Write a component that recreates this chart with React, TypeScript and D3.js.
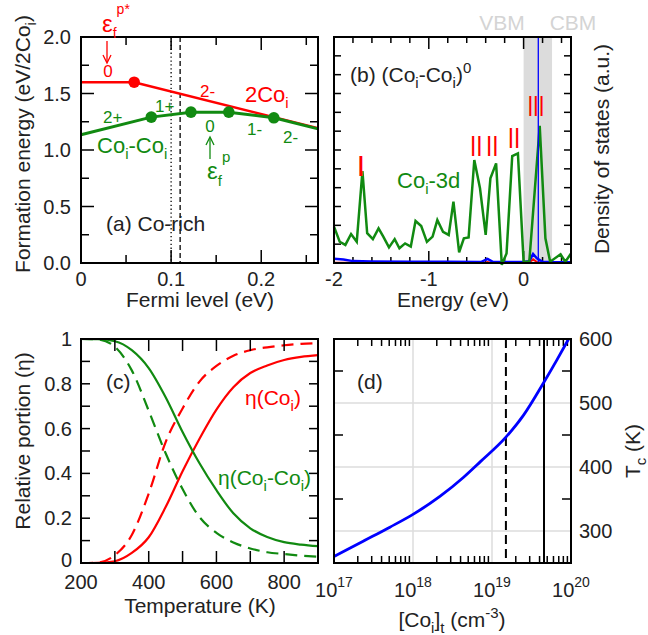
import React from 'react';
import * as d3 from 'd3';

const FONT = '"Liberation Sans", Arial, Helvetica, sans-serif';
const RED = '#ff0000';
const GREEN = '#118a11';
const BLUE = '#0000ff';
const INK = '#222222';

// (a) formation energy vs Fermi level (Co-rich)
const fermiMax = 0.263;
const twoCoiLevel = [0, 0.059, 0.263];
const twoCoiEnergy = [1.6, 1.6, 1.192];
const dimerLevel = [0, 0.078, 0.122, 0.164, 0.214, 0.263];
const dimerEnergy = [1.135, 1.291, 1.335, 1.335, 1.285, 1.187];
const fermiDotted = 0.1;
const fermiDashed = 0.11;

// (b) density of states of (Coi-Coi)0
const dosEnergy = [
  -2.0, -1.94, -1.88, -1.82, -1.76, -1.7, -1.65, -1.59, -1.53, -1.48, -1.42, -1.36, -1.31, -1.25,
  -1.19, -1.14, -1.08, -1.02, -0.96, -0.91, -0.85, -0.79, -0.74, -0.68, -0.63, -0.58, -0.52, -0.46,
  -0.4, -0.35, -0.29, -0.23, -0.18, -0.12, -0.06, 0.0, 0.06, 0.17, 0.23, 0.28, 0.39, 0.44, 0.5,
];
const dosCo3d = [
  1.93, 1.13, 0.96, 1.54, 1.13, 4.88, 1.58, 1.27, 1.84, 1.4, 0.83, 1.27, 0.78, 1.04,
  0.87, 2.23, 1.96, 1.12, 1.4, 2.28, 1.66, 1.49, 3.26, 0.57, 1.31, 1.36, 5.47, 3.97,
  1.49, 4.5, 5.29, -0.1, 0.51, 5.68, 5.82, 0.07, 0.07, 7.28, 1.31, 0.07, 0.46, 0.07, 0.5,
];
const blueEnergy = [-2.0, -1.9, -1.8, -1.6, -1.2, -0.8, -0.45, -0.38, -0.32, -0.1, 0.0, 0.06, 0.1, 0.14, 0.2, 0.3, 0.5];
const blueDos = [0.22, 0.18, 0.1, 0.08, 0.06, 0.06, 0.05, 0.22, 0.05, 0.05, 0.05, 0.1, 0.48, 0.25, 0.06, 0.04, 0.04];
const redEnergy = [-2.0, -0.4, -0.38, -0.35, 0.0, 0.06, 0.1, 0.14, 0.2, 0.5];
const redDos = [0.01, 0.01, 0.05, 0.01, 0.01, 0.02, 0.2, 0.05, 0.01, 0.01];
const gapBand = [0, 0.3];
const fermiLine = 0.155;
const peakLabels = ['I', 'II', 'II', 'II', 'III'];
const peakEnergy = [-1.715, -0.5, -0.33, -0.1, 0.13];
const peakTop = [4.64, 5.66, 5.66, 6.13, 7.8];

// (c) relative portion vs temperature
const temps = [200, 250, 300, 350, 400, 450, 500, 550, 600, 650, 700, 750, 800, 850, 900];
const etaCoi = [0, 0.001, 0.008, 0.045, 0.115, 0.25, 0.41, 0.555, 0.685, 0.785, 0.848, 0.882, 0.906, 0.92, 0.928];
const etaDimer = [1, 0.999, 0.99, 0.95, 0.87, 0.74, 0.585, 0.445, 0.325, 0.222, 0.155, 0.116, 0.093, 0.082, 0.075];
const etaCoiDash = [0, 0.002, 0.035, 0.125, 0.31, 0.54, 0.69, 0.81, 0.88, 0.925, 0.95, 0.963, 0.972, 0.978, 0.982];
const etaDimerDash = [1, 0.998, 0.965, 0.86, 0.68, 0.49, 0.33, 0.205, 0.135, 0.092, 0.065, 0.048, 0.04, 0.033, 0.028];

// (d) Curie temperature vs total Coi concentration
const coConc = [1e17, 2.34e17, 5.1e17, 1e18, 2.19e18, 4.37e18, 7.08e18, 1.51e19, 2.51e19, 4.52e19, 6.61e19, 9.33e19];
const curieT = [260, 284, 306, 326, 354, 384, 408, 447, 481, 532, 567, 600];
const concDashed = 1.5e19;
const concSolid = 4.55e19;

type Box = { x0: number; x1: number; y0: number; y1: number };
const boxA: Box = { x0: 81, x1: 318, y0: 37, y1: 263 };
const boxB: Box = { x0: 334, x1: 571, y0: 37, y1: 263 };
const boxC: Box = { x0: 81, x1: 318, y0: 339, y1: 563 };
const boxD: Box = { x0: 334, x1: 571, y0: 339, y1: 563 };

const xA = d3.scaleLinear().domain([0, fermiMax]).range([boxA.x0, boxA.x1]);
const yA = d3.scaleLinear().domain([0, 2]).range([boxA.y1, boxA.y0]);
const xB = d3.scaleLinear().domain([-2, 0.5]).range([boxB.x0, boxB.x1]);
const yB = d3.scaleLinear().domain([0, 12]).range([boxB.y1, boxB.y0]);
const xC = d3.scaleLinear().domain([200, 900]).range([boxC.x0, boxC.x1]);
const yC = d3.scaleLinear().domain([0, 1]).range([boxC.y1, boxC.y0]);
const xD = d3.scaleLog().domain([1e17, 1e20]).range([boxD.x0, boxD.x1]);
const yD = d3.scaleLinear().domain([250, 600]).range([boxD.y1, boxD.y0]);

const near = (v: number, step: number) => Math.abs(v / step - Math.round(v / step)) < 1e-6;

function xTicks(box: Box, scale: (v: number) => number, vals: number[], len: (v: number) => number, key: string) {
  return vals.flatMap((v, i) => {
    const x = scale(v);
    return [
      <line key={`${key}b${i}`} x1={x} x2={x} y1={box.y1} y2={box.y1 - len(v)} stroke="#000" strokeWidth={1.5} />,
      <line key={`${key}t${i}`} x1={x} x2={x} y1={box.y0} y2={box.y0 + len(v)} stroke="#000" strokeWidth={1.5} />,
    ];
  });
}

function yTicks(box: Box, scale: (v: number) => number, vals: number[], len: (v: number) => number, key: string) {
  return vals.flatMap((v, i) => {
    const y = scale(v);
    return [
      <line key={`${key}l${i}`} x1={box.x0} x2={box.x0 + len(v)} y1={y} y2={y} stroke="#000" strokeWidth={1.5} />,
      <line key={`${key}r${i}`} x1={box.x1} x2={box.x1 - len(v)} y1={y} y2={y} stroke="#000" strokeWidth={1.5} />,
    ];
  });
}

function Frame({ box }: { box: Box }) {
  return <rect x={box.x0} y={box.y0} width={box.x1 - box.x0} height={box.y1 - box.y0} fill="none" stroke="#000" strokeWidth={2} />;
}

type Part = [string, number?, number?];
function Rich({ x, y, parts, size, fill = INK, anchor = 'start', transform }: {
  x: number; y: number; parts: Part[]; size: number; fill?: string; anchor?: string; transform?: string;
}) {
  let cur = 0;
  return (
    <text x={x} y={y} fontSize={size} fill={fill} textAnchor={anchor} transform={transform} fontFamily={FONT}>
      {parts.map((p, i) => {
        const [str, shift = 0, fs] = p;
        const dy = shift - cur;
        cur = shift;
        return (
          <tspan key={i} dy={dy !== 0 ? dy : undefined} fontSize={fs}>
            {str}
          </tspan>
        );
      })}
    </text>
  );
}

export default function App() {
  const lineA = d3.line<[number, number]>().x((d) => xA(d[0])).y((d) => yA(d[1]));
  const twoCoi = d3.zip(twoCoiLevel, twoCoiEnergy) as [number, number][];
  const dimer = d3.zip(dimerLevel, dimerEnergy) as [number, number][];

  const lineB = d3.line<[number, number]>().x((d) => xB(d[0])).y((d) => yB(d[1]));
  const lineC = d3.line<[number, number]>().x((d) => xC(d[0])).y((d) => yC(d[1])).curve(d3.curveMonotoneX);
  const lineD = d3.line<[number, number]>().x((d) => xD(d[0])).y((d) => yD(d[1])).curve(d3.curveMonotoneX);

  const minorD: number[] = [];
  for (const e of [17, 18, 19]) for (let k = 2; k <= 9; k++) minorD.push(k * Math.pow(10, e));

  return (
    <svg width={648} height={635} style={{ position: 'absolute', left: 0, top: 0, background: '#fff' }} fontFamily={FONT}>
      <rect width={648} height={635} fill="#fff" />

      {/* ---------- (a) ---------- */}
      <line x1={xA(fermiDotted)} x2={xA(fermiDotted)} y1={boxA.y0} y2={boxA.y1} stroke="#000" strokeWidth={1.3} strokeDasharray="1.3,2.6" />
      <line x1={xA(fermiDashed)} x2={xA(fermiDashed)} y1={boxA.y0} y2={boxA.y1} stroke="#000" strokeWidth={1.3} strokeDasharray="5,3" />
      <path d={lineA(twoCoi) ?? ''} fill="none" stroke={RED} strokeWidth={2.5} />
      <path d={lineA(dimer) ?? ''} fill="none" stroke={GREEN} strokeWidth={3} />
      {twoCoi.slice(1, -1).map((d, i) => (
        <circle key={`rd${i}`} cx={xA(d[0])} cy={yA(d[1])} r={5.8} fill={RED} />
      ))}
      {dimer.slice(1, -1).map((d, i) => (
        <circle key={`gd${i}`} cx={xA(d[0])} cy={yA(d[1])} r={5.8} fill={GREEN} />
      ))}
      {xTicks(boxA, xA, d3.range(0.05, 0.26, 0.05), (v) => (near(v, 0.1) ? 13 : 8), 'ax')}
      {yTicks(boxA, yA, d3.range(0.25, 2, 0.25), (v) => (near(v, 0.5) ? 13 : 8), 'ay')}
      <Frame box={boxA} />
      {[0, 0.1, 0.2].map((v) => (
        <text key={`axl${v}`} x={xA(v)} y={286} fontSize={20} textAnchor="middle" fill={INK}>{v === 0 ? '0' : v.toFixed(1)}</text>
      ))}
      {[0, 0.5, 1, 1.5, 2].map((v) => (
        <text key={`ayl${v}`} x={71} y={yA(v) + 7} fontSize={20} textAnchor="end" fill={INK}>{v.toFixed(1)}</text>
      ))}
      <text x={200} y={307} fontSize={21} textAnchor="middle" fill={INK}>Fermi level (eV)</text>
      <Rich x={0} y={0} transform="translate(30,144) rotate(-90)" anchor="middle" size={21}
        parts={[['Formation energy (eV/2Co'], ['i', 6, 15], [')']]} />
      <text x={106} y={231} fontSize={21} fill={INK}>(a) Co-rich</text>

      {/* labels (a) */}
      <Rich x={102} y={32} size={24} fill={RED} parts={[['ε'], ['f', 6, 14], ['p*', -18, 14]]} />
      <line x1={107} x2={107} y1={41} y2={62} stroke={RED} strokeWidth={1.3} />
      <path d="M103,55 L107,63 L111,55" fill="none" stroke={RED} strokeWidth={1.3} />
      <text x={108} y={77} fontSize={17} textAnchor="middle" fill={RED}>0</text>
      <text x={200} y={97} fontSize={17} fill={RED}>2-</text>
      <Rich x={245} y={102} size={22} fill={RED} parts={[['2Co'], ['i', 6, 15]]} />

      <text x={103} y={123} fontSize={17} fill={GREEN}>2+</text>
      <text x={155} y={112} fontSize={17} fill={GREEN}>1+</text>
      <text x={210} y={132} fontSize={17} textAnchor="middle" fill={GREEN}>0</text>
      <text x={247} y={135} fontSize={17} fill={GREEN}>1-</text>
      <text x={283} y={143} fontSize={17} fill={GREEN}>2-</text>
      <line x1={210} x2={210} y1={138} y2={159} stroke={GREEN} strokeWidth={1.3} />
      <path d="M206,145 L210,137 L214,145" fill="none" stroke={GREEN} strokeWidth={1.3} />
      <Rich x={207} y={179} size={24} fill={GREEN} parts={[['ε'], ['f', 7, 15], ['p', -17, 15]]} />
      <Rich x={97} y={153} size={22} fill={GREEN} parts={[['Co'], ['i', 6, 15], ['-Co', 0], ['i', 6, 15]]} />

      {/* ---------- (b) ---------- */}
      <rect x={xB(gapBand[0])} y={boxB.y0} width={xB(gapBand[1]) - xB(gapBand[0])} height={boxB.y1 - boxB.y0} fill="#dcdcdc" />
      {xTicks(boxB, xB, d3.range(-1.8, 0.45, 0.2), (v) => (near(v, 1) ? 12 : 6), 'bx')}
      {yTicks(boxB, yB, d3.range(1, 12, 1), () => 7, 'by')}
      <path d={lineB(d3.zip(redEnergy, redDos) as [number, number][]) ?? ''} fill="none" stroke={RED} strokeWidth={2} />
      <path d={lineB(d3.zip(blueEnergy, blueDos) as [number, number][]) ?? ''} fill="none" stroke={BLUE} strokeWidth={2.5} />
      <path d={lineB(d3.zip(dosEnergy, dosCo3d) as [number, number][]) ?? ''} fill="none" stroke={GREEN} strokeWidth={2.5} />
      <line x1={xB(fermiLine)} x2={xB(fermiLine)} y1={boxB.y0} y2={boxB.y1} stroke={BLUE} strokeWidth={1.3} />
      <Frame box={boxB} />
      {[-2, -1, 0].map((v) => (
        <text key={`bxl${v}`} x={xB(v)} y={286} fontSize={20} textAnchor="middle" fill={INK}>{String(v)}</text>
      ))}
      <text x={453} y={307} fontSize={21} textAnchor="middle" fill={INK}>Energy (eV)</text>
      <text x={0} y={0} transform="translate(609,149) rotate(-90)" fontSize={21} textAnchor="middle" fill={INK}>Density of states (a.u.)</text>
      <text x={502} y={30} fontSize={21} textAnchor="middle" fill="#d4d4d4">VBM</text>
      <text x={573} y={30} fontSize={21} textAnchor="middle" fill="#d4d4d4">CBM</text>
      <Rich x={350} y={82} size={21} parts={[['(b) (Co'], ['i', 6, 15], ['-Co', 0], ['i', 6, 15], [')', 0], ['0', -9, 15]]} />
      <Rich x={397} y={188} size={22} fill={GREEN} parts={[['Co'], ['i', 6, 15], ['-3d', 0]]} />
      {peakLabels.map((s, i) => (
        <text key={`pk${i}`} x={xB(peakEnergy[i])} y={yB(peakTop[i])} fontSize={30} textAnchor="middle" fill={RED}
          textLength={s.length === 1 ? undefined : s.length === 2 ? 12.5 : 17} lengthAdjust="spacingAndGlyphs">{s}</text>
      ))}

      {/* ---------- (c) ---------- */}
      <path d={lineC(d3.zip(temps, etaCoiDash) as [number, number][]) ?? ''} fill="none" stroke={RED} strokeWidth={2.2} strokeDasharray="12,7" />
      <path d={lineC(d3.zip(temps, etaDimerDash) as [number, number][]) ?? ''} fill="none" stroke={GREEN} strokeWidth={2.2} strokeDasharray="12,7" />
      <path d={lineC(d3.zip(temps, etaCoi) as [number, number][]) ?? ''} fill="none" stroke={RED} strokeWidth={2.2} />
      <path d={lineC(d3.zip(temps, etaDimer) as [number, number][]) ?? ''} fill="none" stroke={GREEN} strokeWidth={2.2} />
      {xTicks(boxC, xC, d3.range(300, 900, 100), () => 12, 'cx')}
      {yTicks(boxC, yC, d3.range(0.1, 1, 0.1), () => 9, 'cy')}
      <Frame box={boxC} />
      {[200, 400, 600, 800].map((v) => (
        <text key={`cxl${v}`} x={xC(v)} y={589} fontSize={20} textAnchor="middle" fill={INK}>{v}</text>
      ))}
      {[0, 0.2, 0.4, 0.6, 0.8, 1].map((v) => (
        <text key={`cyl${v}`} x={72} y={yC(v) + (v === 0 ? 4 : 7)} fontSize={20} textAnchor="end" fill={INK}>{v === 0 || v === 1 ? String(v) : v.toFixed(1)}</text>
      ))}
      <text x={200} y={613} fontSize={21} textAnchor="middle" fill={INK}>Temperature (K)</text>
      <text x={0} y={0} transform="translate(30,441) rotate(-90)" fontSize={21} textAnchor="middle" fill={INK}>Relative portion (η)</text>
      <text x={106} y={389} fontSize={21} fill={INK}>(c)</text>
      <Rich x={245} y={405} size={21} fill={RED} parts={[['η(Co'], ['i', 6, 15], [')', 0]]} />
      <Rich x={218} y={485} size={21} fill={GREEN} parts={[['η(Co'], ['i', 6, 15], ['-Co', 0], ['i', 6, 15], [')', 0]]} />

      {/* ---------- (d) ---------- */}
      {[300, 400, 500].map((v) => (
        <line key={`dg${v}`} x1={boxD.x0} x2={boxD.x1} y1={yD(v)} y2={yD(v)} stroke="#dddddd" strokeWidth={1.5} />
      ))}
      {[1e18, 1e19].map((v) => (
        <line key={`dgx${v}`} x1={xD(v)} x2={xD(v)} y1={boxD.y0} y2={boxD.y1} stroke="#dddddd" strokeWidth={1.5} />
      ))}
      {xTicks(boxD, xD, minorD, () => 7, 'dx')}
      {yTicks(boxD, yD, [350, 450, 550], () => 9, 'dy')}
      <line x1={xD(concDashed)} x2={xD(concDashed)} y1={boxD.y0} y2={boxD.y1} stroke="#000" strokeWidth={2} strokeDasharray="9,5" />
      <line x1={xD(concSolid)} x2={xD(concSolid)} y1={boxD.y0} y2={boxD.y1} stroke="#000" strokeWidth={2} />
      <path d={lineD(d3.zip(coConc, curieT) as [number, number][]) ?? ''} fill="none" stroke={BLUE} strokeWidth={2.8} />
      <Frame box={boxD} />
      {[17, 18, 19, 20].map((e) => (
        <Rich key={`dxl${e}`} x={xD(Math.pow(10, e))} y={597} size={20} anchor="middle" parts={[['10'], [String(e), -10, 14]]} />
      ))}
      {[300, 400, 500, 600].map((v) => (
        <text key={`dyl${v}`} x={579} y={yD(v) + 7} fontSize={20} fill={INK}>{v}</text>
      ))}
      <Rich x={452} y={627} size={21} anchor="middle" parts={[['[Co'], ['i', 6, 15], [']', 0], ['t', 6, 15], [' (cm', 0], ['-3', -9, 15], [')', 0]]} />
      <Rich x={0} y={0} transform="translate(640,451) rotate(-90)" size={21} anchor="middle" parts={[['T'], ['c', 6, 15], [' (K)', 0]]} />
      <text x={357} y={389} fontSize={21} fill={INK}>(d)</text>
    </svg>
  );
}
